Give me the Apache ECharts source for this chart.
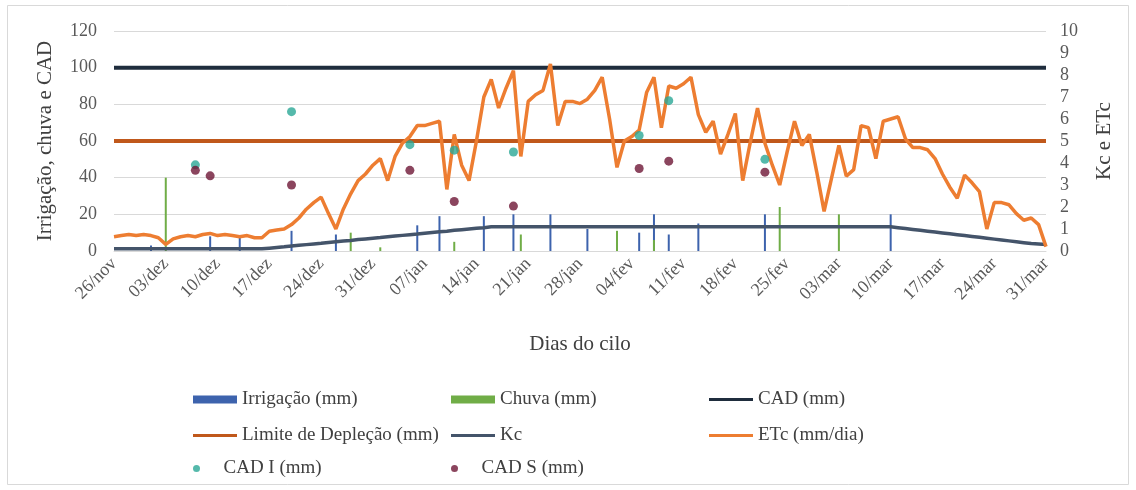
<!DOCTYPE html>
<html>
<head>
<meta charset="utf-8">
<script src="https://cdn.jsdelivr.net/npm/echarts@6/dist/echarts.min.js"></script>
<style>
  html, body { margin: 0; padding: 0; background: #fff; }
  #chart { width: 1136px; height: 490px; }
</style>
</head>
<body>
<div id="chart"></div>
<script>
// Calendar of the crop cycle (26/nov to 31/mar, leap-year February)
const months = [['nov', 26, 30], ['dez', 1, 31], ['jan', 1, 31], ['fev', 1, 29], ['mar', 1, 31]];
const days = [];
months.forEach(([m, a, b]) => {
  for (let d = a; d <= b; d++) days.push(String(d).padStart(2, '0') + '/' + m);
});

// Daily crop evapotranspiration (mm/dia)
const etc = [
  0.65, 0.7, 0.75, 0.7, 0.75, 0.7, 0.6, 0.3, 0.55, 0.65, 0.7, 0.65, 0.75, 0.8, 0.7, 0.75, 0.7, 0.65, 0.7, 0.6, 0.6,
  0.9, 0.95, 1.0, 1.2, 1.5, 1.9, 2.2, 2.45, 1.7, 1.0,
  1.9, 2.6, 3.2, 3.5, 3.9, 4.2, 3.2, 4.3, 4.9, 5.2,
  5.7, 5.7, 5.8, 5.9, 2.8, 5.3, 3.9, 3.2, 5.0, 7.0,
  7.8, 6.5, 7.4, 8.2, 4.3, 6.8, 7.1, 7.3, 8.5, 5.7,
  6.8, 6.8, 6.7, 6.9, 7.3, 7.9, 6.0, 3.8, 5.0, 5.2,
  5.5, 7.2, 7.9, 5.6, 7.5, 7.4, 7.6, 7.9, 6.2, 5.4,
  5.9, 4.4, 5.3, 6.25, 3.2, 4.9, 6.5, 4.9, 3.9, 3.0,
  4.5, 5.9, 4.8, 5.3, 3.6, 1.8, 3.3, 4.8, 3.4, 3.7,
  5.7, 5.6, 4.2, 5.9, 6.0, 6.1, 5.1, 4.7, 4.7, 4.6,
  4.2, 3.5, 2.9, 2.4, 3.45, 3.1, 2.7, 1.0, 2.2, 2.2,
  2.1, 1.7, 1.4, 1.5, 1.2, 0.2
];

// Crop coefficient
const kc = [
  0.10, 0.10, 0.10, 0.10, 0.10, 0.10, 0.10, 0.10, 0.10, 0.10, 0.10, 0.10, 0.10, 0.10, 0.10, 0.10, 0.10, 0.10, 0.10, 0.10, 0.10,
  0.13, 0.16, 0.19, 0.23, 0.26, 0.29, 0.32, 0.35, 0.39, 0.42, 0.45, 0.48, 0.52, 0.55, 0.58, 0.61,
  0.65, 0.68, 0.71, 0.74, 0.77, 0.81, 0.84, 0.87, 0.90, 0.94, 0.97, 1.00, 1.03, 1.06, 1.10,
  1.10, 1.10, 1.10, 1.10, 1.10, 1.10, 1.10, 1.10, 1.10, 1.10, 1.10, 1.10, 1.10, 1.10, 1.10, 1.10, 1.10, 1.10,
  1.10, 1.10, 1.10, 1.10, 1.10, 1.10, 1.10, 1.10, 1.10, 1.10, 1.10, 1.10, 1.10, 1.10, 1.10, 1.10, 1.10, 1.10,
  1.10, 1.10, 1.10, 1.10, 1.10, 1.10, 1.10, 1.10, 1.10, 1.10, 1.10, 1.10, 1.10, 1.10, 1.10, 1.10, 1.10, 1.10,
  1.06, 1.02, 0.98, 0.94, 0.90, 0.86, 0.82, 0.78, 0.74, 0.70, 0.66, 0.62, 0.58, 0.54, 0.50, 0.46, 0.42,
  0.38, 0.34, 0.32, 0.30
];

// Water available capacity and depletion limit (mm)
const cadMm = 100;
const limiteMm = 60;

// Irrigation events (mm)
const irrigDays = ['01/dez', '09/dez', '13/dez', '20/dez', '26/dez', '06/jan', '09/jan', '15/jan', '19/jan',
                   '24/jan', '29/jan', '05/fev', '07/fev', '09/fev', '13/fev', '22/fev', '10/mar'];
const irrigMm   = [3, 8, 8, 11, 9, 14, 19, 19, 20, 20, 12, 10, 20, 9, 15, 20, 20];

// Rainfall events (mm)
const rainDays = ['03/dez', '28/dez', '01/jan', '11/jan', '20/jan', '02/fev', '07/fev', '24/fev', '03/mar'];
const rainMm   = [40, 10, 2, 5, 9, 11, 6, 24, 20];

// Soil water readings (mm)
const cadIDays = ['07/dez', '20/dez', '05/jan', '11/jan', '19/jan', '05/fev', '09/fev', '22/fev'];
const cadIMm   = [47, 76, 58, 55, 54, 63, 82, 50];
const cadSDays = ['07/dez', '09/dez', '20/dez', '05/jan', '11/jan', '19/jan', '05/fev', '09/fev', '22/fev'];
const cadSMm   = [44, 41, 36, 44, 27, 24.5, 45, 49, 43];

const FONT = 'Liberation Serif';
const TXT = '#404040';
const TICK = '#595959';

const pairs = (ds, vs) => ds.map((d, k) => [d, vs[k]]);

const legendText = { fontFamily: FONT, fontSize: 19, color: TXT };
function leg(name, left, top, icon, h) {
  return {
    data: [name], left: left, top: top, padding: 0,
    icon: icon, itemWidth: 44, itemHeight: h, itemGap: 0,
    textStyle: legendText, selectedMode: false
  };
}

const chart = echarts.init(document.getElementById('chart'));
chart.setOption({
  animation: false,
  backgroundColor: '#fff',
  graphic: [{
    type: 'rect', shape: { x: 7.5, y: 5.5, width: 1121, height: 479 },
    style: { fill: 'none', stroke: '#d9d9d9', lineWidth: 1 }, silent: true, z: -10
  }],
  grid: { left: 114, right: 90, top: 31, bottom: 239 },
  legend: [
    leg('Irrigação (mm)', 193, 390, 'rect', 8),
    leg('Chuva (mm)', 451, 390, 'rect', 8),
    leg('CAD (mm)', 709, 390, 'rect', 3),
    leg('Limite de Depleção (mm)', 193, 426, 'rect', 3),
    leg('Kc', 451, 426, 'rect', 3),
    leg('ETc (mm/dia)', 709, 426, 'rect', 3),
    leg('CAD I (mm)', 193, 459, 'circle', 7),
    leg('CAD S (mm)', 451, 459, 'circle', 7)
  ],
  xAxis: {
    type: 'category', data: days, boundaryGap: false,
    name: 'Dias do cilo', nameLocation: 'middle', nameGap: 83,
    nameTextStyle: { fontFamily: FONT, fontSize: 21, color: TXT },
    axisLine: { lineStyle: { color: '#d9d9d9' } },
    axisTick: { show: false },
    axisLabel: { interval: 6, rotate: 45, fontFamily: FONT, fontSize: 18, color: TICK, margin: 10 }
  },
  yAxis: [{
    type: 'value', min: 0, max: 120, interval: 20,
    name: 'Irrigação, chuva e CAD', nameLocation: 'middle', nameGap: 58,
    nameTextStyle: { fontFamily: FONT, fontSize: 21, color: TXT },
    axisLine: { show: false }, axisTick: { show: false },
    axisLabel: { fontFamily: FONT, fontSize: 18, color: TICK, margin: 17 },
    splitLine: { lineStyle: { color: '#d9d9d9' } }
  }, {
    type: 'value', min: 0, max: 10, interval: 1,
    name: 'Kc e ETc', nameLocation: 'middle', nameGap: 48,
    nameTextStyle: { fontFamily: FONT, fontSize: 21, color: TXT },
    axisLine: { show: false }, axisTick: { show: false },
    axisLabel: { fontFamily: FONT, fontSize: 18, color: TICK, margin: 14 },
    splitLine: { show: false }
  }],
  series: [
    {
      name: 'Irrigação (mm)', type: 'bar', barWidth: 2, barGap: '-100%',
      itemStyle: { color: '#3d63ad' }, data: pairs(irrigDays, irrigMm), z: 1
    },
    {
      name: 'Chuva (mm)', type: 'bar', barWidth: 2, barGap: '-100%',
      itemStyle: { color: '#70ad47' }, data: pairs(rainDays, rainMm), z: 1
    },
    {
      name: 'CAD (mm)', type: 'line', symbol: 'none',
      lineStyle: { color: '#1f2d3d', width: 4 }, itemStyle: { color: '#1f2d3d' },
      data: days.map(() => cadMm), z: 2
    },
    {
      name: 'Limite de Depleção (mm)', type: 'line', symbol: 'none',
      lineStyle: { color: '#c0581b', width: 4 }, itemStyle: { color: '#c0581b' },
      data: days.map(() => limiteMm), z: 2
    },
    {
      name: 'Kc', type: 'line', symbol: 'none', yAxisIndex: 1,
      lineStyle: { color: '#44546a', width: 3.5 }, itemStyle: { color: '#44546a' },
      data: kc, z: 3
    },
    {
      name: 'ETc (mm/dia)', type: 'line', symbol: 'none', yAxisIndex: 1,
      lineStyle: { color: '#ed7d31', width: 3.5 }, itemStyle: { color: '#ed7d31' },
      data: etc, z: 4
    },
    {
      name: 'CAD I (mm)', type: 'scatter', symbol: 'circle', symbolSize: 9,
      itemStyle: { color: '#2aa896' }, data: pairs(cadIDays, cadIMm), z: 5
    },
    {
      name: 'CAD S (mm)', type: 'scatter', symbol: 'circle', symbolSize: 9,
      itemStyle: { color: '#6e1636' }, data: pairs(cadSDays, cadSMm), z: 6
    }
  ]
});
</script>
</body>
</html>
